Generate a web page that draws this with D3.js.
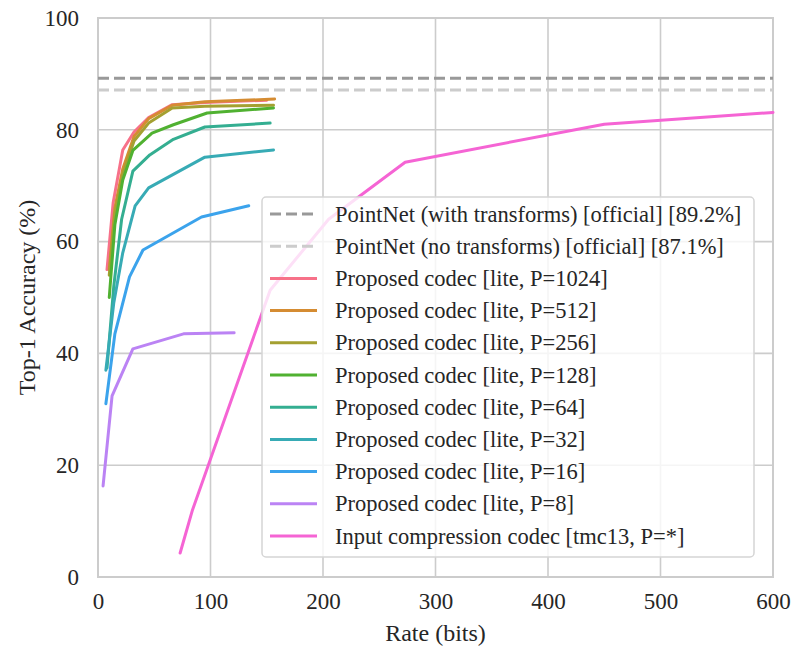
<!DOCTYPE html>
<html>
<head>
<meta charset="utf-8">
<script src="https://cdn.jsdelivr.net/npm/d3@7"></script>
<style>
  html, body { margin: 0; padding: 0; background: #fff; }
  svg { display: block; font-family: "Liberation Serif", "Times New Roman", serif; }
</style>
</head>
<body>
<svg id="chart"></svg>
<script>
// ── Data ────────────────────────────────────────────────────────────────────
const xTicks = [0, 100, 200, 300, 400, 500, 600];
const yTicks = [0, 20, 40, 60, 80, 100];

const refLabels = [
  'PointNet (with transforms) [official] [89.2%]',
  'PointNet (no transforms) [official] [87.1%]'
];
const refValues = [89.2, 87.1];

const seriesLabels = [
  'Proposed codec [lite, P=1024]',
  'Proposed codec [lite, P=512]',
  'Proposed codec [lite, P=256]',
  'Proposed codec [lite, P=128]',
  'Proposed codec [lite, P=64]',
  'Proposed codec [lite, P=32]',
  'Proposed codec [lite, P=16]',
  'Proposed codec [lite, P=8]',
  'Input compression codec [tmc13, P=*]'
];

// [rate (bits), top-1 accuracy (%)]
const p1024 = [[8, 55], [13.5, 67], [22, 76.4], [32, 79.6], [45, 82.2], [66, 84.5], [95, 84.9], [150, 85.3]];
const p512  = [[10, 55], [15, 66], [22, 73], [32, 78.8], [45, 82], [66, 84.4], [95, 85], [157, 85.5]];
const p256  = [[10, 54], [15, 65], [22, 72], [32, 78], [45, 81.2], [66, 83.9], [95, 84.2], [156, 84.4]];
const p128  = [[10, 50], [15, 63], [22, 71], [31, 76.3], [48, 79.4], [67, 80.9], [97, 83], [156, 83.9]];
const p64   = [[8, 37.4], [14, 52], [21, 64], [31, 72.6], [46, 75.5], [67, 78.3], [95, 80.5], [153, 81.2]];
const p32   = [[7, 37], [14, 49], [22, 58], [33, 66.4], [45, 69.6], [95, 75.1], [156, 76.4]];
const p16   = [[7, 31], [15, 43.5], [28, 53.7], [40, 58.5], [92, 64.4], [134, 66.4]];
const p8    = [[4.5, 16.3], [12.5, 32.4], [31, 40.8], [76, 43.5], [121, 43.7]];
const tmc13 = [[73, 4.3], [84, 12], [153, 51.3], [205, 64], [273, 74.2], [450, 81], [600, 83.1]];

const seriesData = [p1024, p512, p256, p128, p64, p32, p16, p8, tmc13];

// seaborn husl_palette(9) + two greys for the reference lines
const seriesColors = ['#f77189', '#d58c32', '#a4a031', '#50b131', '#34ae91', '#37abb5', '#3ba3ec', '#bb83f4', '#f564d4'];
const refColors = ['#999999', '#cccccc'];

// ── Layout ──────────────────────────────────────────────────────────────────
const W = 792, H = 646;
const M = { left: 98, right: 19, top: 18, bottom: 69 };
const FONT = '"Liberation Serif", "Times New Roman", serif';

const svg = d3.select('#chart').attr('width', W).attr('height', H);

const x = d3.scaleLinear().domain([0, 600]).range([M.left, W - M.right]);
const y = d3.scaleLinear().domain([0, 100]).range([H - M.bottom, M.top]);

// grid
const grid = svg.append('g').attr('class', 'grid');
grid.selectAll('line.gx').data(xTicks).join('line')
  .attr('x1', d => x(d)).attr('x2', d => x(d))
  .attr('y1', y(0)).attr('y2', y(100))
  .attr('stroke', '#cccccc').attr('stroke-width', 1.6);
grid.selectAll('line.gy').data(yTicks).join('line')
  .attr('x1', x(0)).attr('x2', x(600))
  .attr('y1', d => y(d)).attr('y2', d => y(d))
  .attr('stroke', '#cccccc').attr('stroke-width', 1.6);

// frame
svg.append('rect')
  .attr('x', x(0)).attr('y', y(100))
  .attr('width', x(600) - x(0)).attr('height', y(0) - y(100))
  .attr('fill', 'none').attr('stroke', '#cccccc').attr('stroke-width', 2);

// axes (tick labels only, seaborn whitegrid look)
const xAxis = svg.append('g')
  .attr('transform', `translate(0,${y(0)})`)
  .call(d3.axisBottom(x).tickValues(xTicks).tickSize(0).tickPadding(16));
const yAxis = svg.append('g')
  .attr('transform', `translate(${x(0)},0)`)
  .call(d3.axisLeft(y).tickValues(yTicks).tickSize(0).tickPadding(19));
[xAxis, yAxis].forEach(a => {
  a.select('.domain').remove();
  a.selectAll('text')
    .attr('font-family', FONT)
    .attr('font-size', 23)
    .attr('fill', '#262626');
});

// axis titles
svg.append('text')
  .attr('x', (x(0) + x(600)) / 2).attr('y', 641)
  .attr('text-anchor', 'middle')
  .attr('font-family', FONT)
  .attr('font-size', 24).attr('fill', '#262626')
  .text('Rate (bits)');
svg.append('text')
  .attr('transform', `translate(35,${(y(0) + y(100)) / 2}) rotate(-90)`)
  .attr('text-anchor', 'middle')
  .attr('font-family', FONT)
  .attr('font-size', 24).attr('fill', '#262626')
  .text('Top-1 Accuracy (%)');

// ── Marks ───────────────────────────────────────────────────────────────────
const plot = svg.append('g');

plot.selectAll('line.ref').data(refValues).join('line')
  .attr('class', 'ref')
  .attr('x1', x(0)).attr('x2', x(600))
  .attr('y1', d => y(d)).attr('y2', d => y(d))
  .attr('stroke', (d, i) => refColors[i])
  .attr('stroke-width', 3)
  .attr('stroke-dasharray', '11,5');

const line = d3.line().x(d => x(d[0])).y(d => y(d[1]));

plot.selectAll('path.series').data(seriesData).join('path')
  .attr('class', 'series')
  .attr('d', line)
  .attr('fill', 'none')
  .attr('stroke', (d, i) => seriesColors[i])
  .attr('stroke-width', 3)
  .attr('stroke-linejoin', 'round')
  .attr('stroke-linecap', 'round');

// ── Legend ──────────────────────────────────────────────────────────────────
const legendItems = refLabels.map((t, i) => ({ label: t, color: refColors[i], dash: true }))
  .concat(seriesLabels.map((t, i) => ({ label: t, color: seriesColors[i], dash: false })));

const lg = svg.append('g').attr('transform', 'translate(262,197)');
lg.append('rect')
  .attr('width', 492).attr('height', 360).attr('rx', 4)
  .attr('fill', 'rgba(255,255,255,0.8)')
  .attr('stroke', '#d5d5d5').attr('stroke-width', 1.5);

const rowH = 32.2;
const rows = lg.selectAll('g.item').data(legendItems).join('g')
  .attr('class', 'item')
  .attr('transform', (d, i) => `translate(0,${17 + i * rowH})`);
rows.append('line')
  .attr('x1', 8).attr('x2', 55)
  .attr('stroke', d => d.color).attr('stroke-width', 3)
  .attr('stroke-dasharray', d => d.dash ? '11,5' : null);
rows.append('text')
  .attr('x', 73).attr('y', 7.5)
  .attr('font-family', FONT)
  .attr('font-size', 22.5).attr('fill', '#262626')
  .text(d => d.label);
</script>
</body>
</html>
